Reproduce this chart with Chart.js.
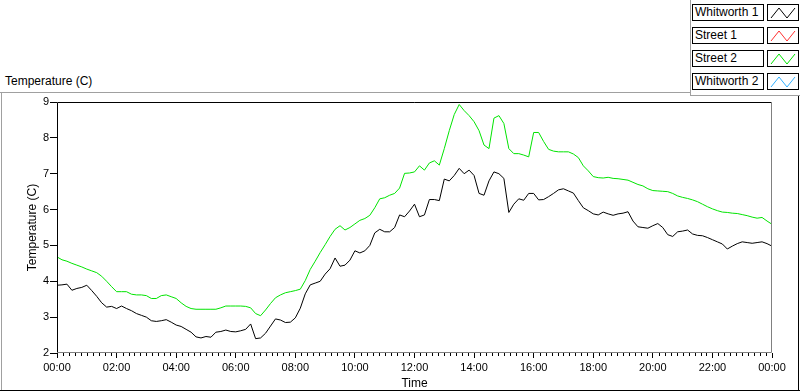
<!DOCTYPE html>
<html lang="en">
<head>
    <meta charset="UTF-8">
    <title>Temperature (C)</title>
    <script src="https://cdn.jsdelivr.net/npm/chart.js"></script>
    <style>
        body {
            margin: 0;
            background: #fff;
            font-family: 'Liberation Sans', Arial, sans-serif;
        }
        .wrap {
            position: relative;
            width: 800px;
            height: 392px;
            overflow: hidden;
        }
        #chart {
            position: absolute;
            left: 0;
            top: 0;
        }
        .ln { position: absolute; }
        .chart-label {
            position: absolute;
            left: 5px;
            top: 74px;
            font-size: 12px;
            color: #000;
        }
        /* legend rows: name box + line sample */
        #legend {
            position: absolute;
            left: 692px;
            top: 4px;
        }
        .legend-row {
            display: flex;
            height: 17px;
            margin-bottom: 6px;
        }
        .legend-name {
            width: 68px;
            height: 15px;
            border: 1px solid #000;
            font-size: 12px;
            line-height: 15px;
            padding-left: 2px;
            box-sizing: content-box;
            background: #fff;
        }
        .legend-swatch {
            margin-left: 3px;
            width: 30px;
            height: 15px;
            border: 1px solid #000;
            background: #fff;
        }
    </style>
</head>
<body>
<div class="wrap">
    <!-- frame lines -->
    <div class="ln" style="left:0;top:92px;width:690px;height:1px;background:#a0a0a0"></div>
    <div class="ln" style="left:1px;top:92px;width:1px;height:298px;background:#a0a0a0"></div>
    <div class="ln" style="left:0;top:390px;width:800px;height:1px;background:#000"></div>
    <div class="ln" style="left:798px;top:95px;width:1px;height:296px;background:#000"></div>
    <div class="ln" style="left:690px;top:0;width:1px;height:96px;background:#a0a0a0"></div>
    <div class="ln" style="left:690px;top:95px;width:110px;height:1px;background:#a0a0a0"></div>

    <div class="chart-label">Temperature (C)</div>
    <div id="legend"></div>
    <canvas id="chart" width="800" height="392"></canvas>
</div>
<script>
    // one sample every 10 minutes, 00:00 .. 24:00
    const stepMinutes = 10;

    const whitworth1 = [
        3.89, 3.90, 3.92, 3.75, 3.80, 3.83, 3.89, 3.74, 3.58, 3.40, 3.28, 3.30,
        3.24, 3.31, 3.24, 3.18, 3.10, 3.05, 3.00, 2.90, 2.88, 2.90, 2.93, 2.86,
        2.78, 2.74, 2.66, 2.58, 2.45, 2.42, 2.46, 2.44, 2.58, 2.60, 2.64, 2.60,
        2.59, 2.62, 2.66, 2.81, 2.40, 2.42, 2.55, 2.75, 2.95, 2.92, 2.85, 2.86,
        2.98, 3.25, 3.65, 3.90, 3.95, 4.00, 4.20, 4.35, 4.65, 4.42, 4.45, 4.59,
        4.85, 4.79, 4.85, 5.00, 5.35, 5.45, 5.38, 5.38, 5.50, 5.85, 5.80, 5.96,
        6.15, 5.80, 5.85, 6.28, 6.28, 6.25, 6.85, 6.80, 6.95, 7.15, 7.00, 7.10,
        6.95, 6.45, 6.40, 6.80, 7.05, 7.00, 6.87, 5.92, 6.15, 6.30, 6.26, 6.45,
        6.45, 6.27, 6.28, 6.36, 6.45, 6.55, 6.58, 6.52, 6.46, 6.25, 6.05, 5.97,
        5.88, 5.85, 5.93, 5.88, 5.84, 5.88, 5.90, 5.94, 5.68, 5.52, 5.50, 5.48,
        5.55, 5.61, 5.50, 5.30, 5.25, 5.38, 5.40, 5.43, 5.32, 5.28, 5.27, 5.22,
        5.16, 5.10, 5.04, 4.90, 4.98, 5.05, 5.10, 5.08, 5.06, 5.08, 5.10, 5.05,
        4.98
    ];

    const street2 = [
        4.68, 4.60, 4.56, 4.50, 4.45, 4.40, 4.34, 4.29, 4.24, 4.14, 4.00, 3.85,
        3.71, 3.71, 3.71, 3.64, 3.62, 3.62, 3.60, 3.52, 3.52, 3.60, 3.62, 3.57,
        3.52, 3.40, 3.30, 3.24, 3.22, 3.22, 3.22, 3.22, 3.22, 3.26, 3.31, 3.31,
        3.31, 3.31, 3.30, 3.26, 3.10, 3.04, 3.20, 3.38, 3.54, 3.62, 3.68, 3.71,
        3.74, 3.78, 4.02, 4.33, 4.56, 4.80, 5.02, 5.25, 5.45, 5.55, 5.43, 5.50,
        5.60, 5.70, 5.75, 5.84, 6.05, 6.30, 6.33, 6.40, 6.45, 6.60, 7.01, 7.02,
        7.05, 7.22, 7.10, 7.30, 7.36, 7.24, 7.70, 8.20, 8.65, 8.93, 8.76, 8.62,
        8.45, 8.20, 7.80, 7.70, 8.55, 8.62, 8.40, 7.70, 7.56, 7.56, 7.52, 7.47,
        8.15, 8.15, 7.90, 7.68, 7.63, 7.61, 7.61, 7.61, 7.55, 7.45, 7.22, 7.08,
        6.92, 6.89, 6.88, 6.90, 6.87, 6.86, 6.84, 6.82, 6.76, 6.70, 6.66, 6.58,
        6.53, 6.52, 6.51, 6.50, 6.45, 6.38, 6.34, 6.31, 6.27, 6.22, 6.15, 6.08,
        6.02, 5.97, 5.93, 5.92, 5.90, 5.89, 5.86, 5.83, 5.79, 5.76, 5.78, 5.68,
        5.59
    ];

    // no samples for these two in this plot
    const street1 = [];
    const whitworth2 = [];

    const seriesNames = ['Whitworth 1', 'Street 1', 'Street 2', 'Whitworth 2'];
    const seriesColors = ['#000000', '#ff3030', '#00e400', '#30b0ff'];
    const seriesData = [whitworth1, street1, street2, whitworth2];

    const yTicks = [2, 3, 4, 5, 6, 7, 8, 9];
    const hourLabelStep = 2;   // labelled ticks every 2 h
    const minorStep = 0.2;     // small ticks every 12 min

    function toPoints(arr) {
        return arr.map((v, i) => ({ x: i * stepMinutes / 60, y: v }));
    }

    function fmtHour(v) {
        const h = Math.round(v) % 24;
        return (h < 10 ? '0' : '') + h + ':00';
    }

    const frameAndMinorTicks = {
        id: 'frameAndMinorTicks',
        afterDraw(chart) {
            const { ctx, chartArea: a, scales } = chart;
            ctx.save();
            ctx.lineWidth = 1;
            // plot frame: dark top/left, grey right/bottom
            ctx.strokeStyle = '#000';
            ctx.beginPath();
            ctx.moveTo(a.left + 0.5, a.bottom);
            ctx.lineTo(a.left + 0.5, a.top + 0.5);
            ctx.lineTo(a.right, a.top + 0.5);
            ctx.stroke();
            ctx.strokeStyle = '#808080';
            ctx.beginPath();
            ctx.moveTo(a.right - 0.5, a.top);
            ctx.lineTo(a.right - 0.5, a.bottom - 0.5);
            ctx.lineTo(a.left, a.bottom - 0.5);
            ctx.stroke();
            // minor ticks on the time axis
            ctx.strokeStyle = '#000';
            ctx.beginPath();
            const n = Math.round(24 / minorStep);
            for (let k = 0; k <= n; k++) {
                if (k % Math.round(hourLabelStep / minorStep) === 0) continue;
                const px = Math.round(scales.x.getPixelForValue(k * minorStep)) + 0.5;
                ctx.moveTo(px, a.bottom);
                ctx.lineTo(px, a.bottom + 3);
            }
            ctx.stroke();
            ctx.restore();
        }
    };

    const chart = new Chart(document.getElementById('chart').getContext('2d'), {
        type: 'line',
        data: {
            datasets: seriesNames.map((name, i) => ({
                label: name,
                data: toPoints(seriesData[i]),
                borderColor: seriesColors[i],
                backgroundColor: seriesColors[i],
                borderWidth: 1,
                pointRadius: 0,
                tension: 0,
                fill: false
            }))
        },
        options: {
            responsive: false,
            animation: false,
            devicePixelRatio: 1,
            layout: { padding: { left: 0, top: 102, right: 28, bottom: 0 } },
            plugins: {
                legend: { display: false },
                tooltip: { enabled: false }
            },
            scales: {
                x: {
                    type: 'linear',
                    min: 0,
                    max: 24,
                    afterFit: s => { s.height = 39; },
                    border: { display: false },
                    grid: { drawOnChartArea: false, drawTicks: true, tickLength: 5, color: '#000' },
                    ticks: {
                        stepSize: hourLabelStep,
                        autoSkip: false,
                        maxRotation: 0,
                        padding: 3,
                        color: '#000',
                        font: { family: 'Liberation Sans', size: 11 },
                        callback: v => fmtHour(v)
                    },
                    title: {
                        display: true,
                        text: 'Time',
                        color: '#000',
                        font: { family: 'Liberation Sans', size: 12 },
                        padding: { top: 0, bottom: 1 }
                    }
                },
                y: {
                    min: yTicks[0],
                    max: yTicks[yTicks.length - 1],
                    afterFit: s => { s.width = 57; },
                    afterBuildTicks: s => { s.ticks = yTicks.map(v => ({ value: v })); },
                    border: { display: false },
                    grid: { drawOnChartArea: false, drawTicks: true, tickLength: 7, color: '#000' },
                    ticks: {
                        padding: 1,
                        color: '#000',
                        font: { family: 'Liberation Sans', size: 11 }
                    },
                    title: {
                        display: true,
                        text: 'Temperature (C)',
                        color: '#000',
                        font: { family: 'Liberation Sans', size: 12 },
                        padding: { top: 25, bottom: 0 }
                    }
                }
            }
        },
        plugins: [frameAndMinorTicks]
    });

    // legend built from the chart's datasets
    const legend = document.getElementById('legend');
    chart.data.datasets.forEach(ds => {
        const row = document.createElement('div');
        row.className = 'legend-row';
        const name = document.createElement('div');
        name.className = 'legend-name';
        name.textContent = ds.label;
        const sw = document.createElement('div');
        sw.className = 'legend-swatch';
        sw.innerHTML = '<svg width="30" height="15"><polyline points="3,13 11,3 19,13 27,3" fill="none" stroke="' +
            ds.borderColor + '" stroke-width="1"/></svg>';
        row.appendChild(name);
        row.appendChild(sw);
        legend.appendChild(row);
    });
</script>
</body>
</html>
